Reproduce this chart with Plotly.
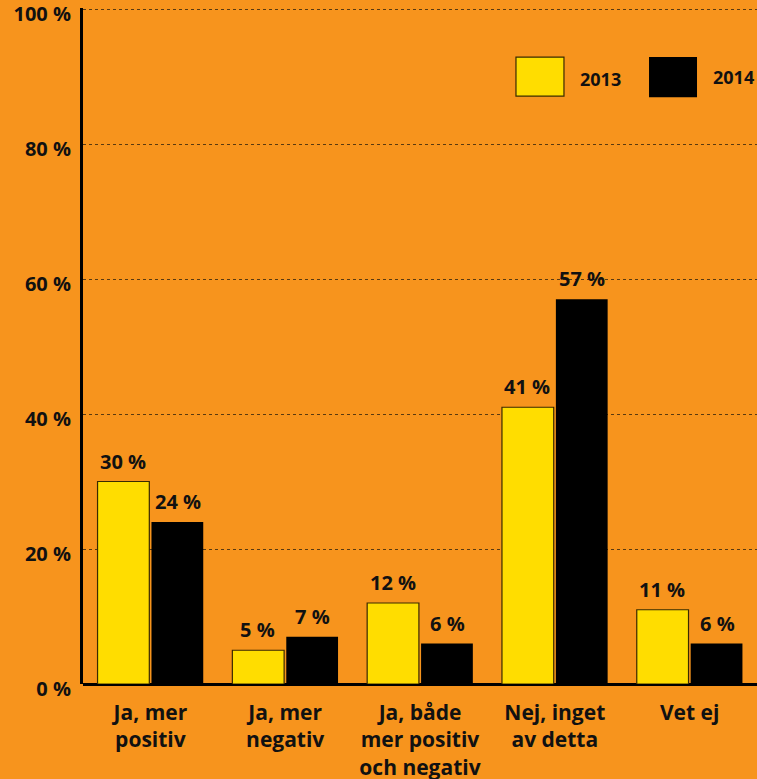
import plotly.graph_objects as go

categories = ["Ja, mer<br>positiv", "Ja, mer<br>negativ", "Ja, både<br>mer positiv<br>och negativ",
              "Nej, inget<br>av detta", "Vet ej"]
values_2013 = [30, 5, 12, 41, 11]
values_2014 = [24, 7, 6, 57, 6]
series_names = ["2013", "2014"]
y_ticks = [0, 20, 40, 60, 80, 100]
y_tick_labels = ["0 %", "20 %", "40 %", "60 %", "80 %", "100 %"]

BG = "#F7941D"
YELLOW = "#FFDD00"
BLACK = "#000000"
FONT = "Open Sans"
TXT = "#111111"

fig = go.Figure()
fig.add_trace(go.Bar(
    x=categories, y=values_2013, name=series_names[0],
    marker=dict(color=YELLOW, line=dict(color="#3a2a00", width=1.2)),
    showlegend=False,
))
fig.add_trace(go.Bar(
    x=categories, y=values_2014, name=series_names[1],
    marker=dict(color=BLACK, line=dict(color=BLACK, width=0)),
    showlegend=False,
))

# value labels above bars
for vals, shift in ((values_2013, -27.5), (values_2014, 27.5)):
    for cat, v in zip(categories, vals):
        fig.add_annotation(x=cat, y=v, xref="x", yref="y", text=f"{v} %", showarrow=False,
                           xshift=shift, yshift=5, yanchor="bottom", xanchor="center",
                           font=dict(family=FONT, size=20, color=TXT, weight=700))

# legend drawn as shapes + text
fig.add_shape(type="rect", xref="paper", yref="paper", x0=0.6424, x1=0.7136, y0=0.8696, y1=0.9274,
              fillcolor=YELLOW, line=dict(color="#3a2a00", width=1.2))
fig.add_shape(type="rect", xref="paper", yref="paper", x0=0.8398, x1=0.911, y0=0.8681, y1=0.9274,
              fillcolor=BLACK, line=dict(color=BLACK, width=0))
fig.add_annotation(xref="paper", yref="paper", x=0.735, y=0.895, text=series_names[0],
                   showarrow=False, xanchor="left", yanchor="middle",
                   font=dict(family=FONT, size=18, color=TXT, weight=700))
fig.add_annotation(xref="paper", yref="paper", x=0.932, y=0.898, text=series_names[1],
                   showarrow=False, xanchor="left", yanchor="middle",
                   font=dict(family=FONT, size=18, color=TXT, weight=700))

fig.update_layout(
    width=757, height=779,
    margin=dict(l=83, r=0, t=8, b=95, autoexpand=False),
    paper_bgcolor=BG, plot_bgcolor=BG,
    barmode="group", bargap=0.2, bargroupgap=0.04,
    font=dict(family=FONT, color=TXT),
)
fig.update_xaxes(
    range=[-0.5, 4.5], showgrid=False, showline=False, zeroline=False, ticks="",
    ticklabelstandoff=14, automargin=False,
    tickfont=dict(family=FONT, size=21, color=TXT, weight=700),
)
fig.update_yaxes(
    range=[0, 100.15], tickvals=y_ticks, ticktext=y_tick_labels,
    showgrid=True, gridcolor="#5a3a10", griddash="dot", gridwidth=1,
    showline=True, linecolor=BLACK, linewidth=3,
    zeroline=True, zerolinecolor=BLACK, zerolinewidth=3,
    ticks="", ticklabelstandoff=5, ticklabelshift=5, ticklabeloverflow="allow", automargin=False,
    tickfont=dict(family=FONT, size=20, color=TXT, weight=700),
)

fig.write_html("out.html", config={"displayModeBar": False},
               post_script="document.body.style.margin='0';document.body.style.overflow='hidden';")
